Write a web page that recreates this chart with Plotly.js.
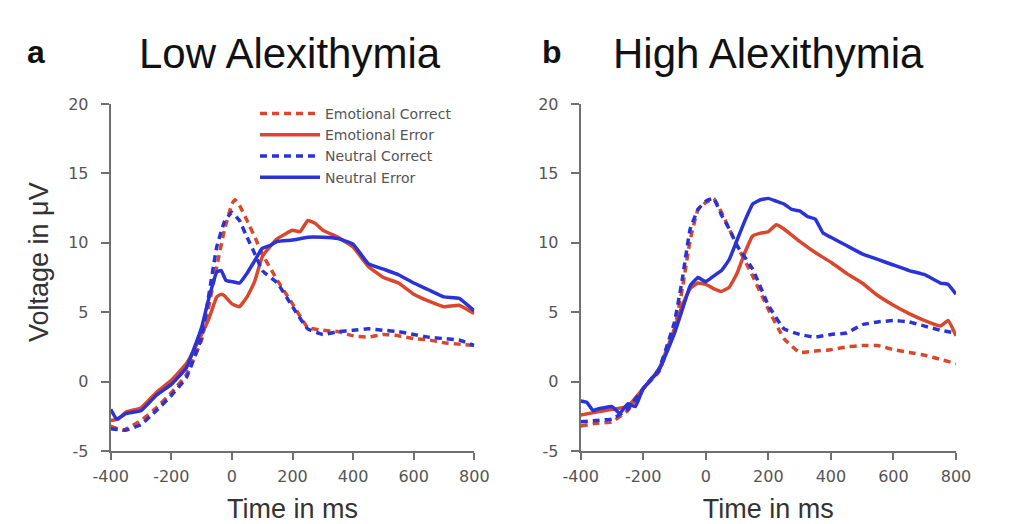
<!DOCTYPE html>
<html>
<head>
<meta charset="utf-8">
<script src="https://cdn.plot.ly/plotly-3.0.1.min.js"></script>
<style>html,body{margin:0;padding:0;background:#fff;}#chart{width:1016px;height:524px;}</style>
</head>
<body>
<div id="chart"></div>
<script>
// ---------- Data (time in ms, voltage in µV) ----------
const seriesNames = ["Emotional Correct", "Emotional Error", "Neutral Correct", "Neutral Error"];
const panelTitles = ["Low Alexithymia", "High Alexithymia"];
const panelLetters = ["a", "b"];
const xTitle = "Time in ms";
const yTitle = "Voltage in μV";
const xTicks = [-400, -200, 0, 200, 400, 600, 800];
const yTicks = [-5, 0, 5, 10, 15, 20];

// Low alexithymia
const lowEmoCorrT = [-400,-360,-300,-250,-200,-150,-100,-50,-25,0,10,25,50,80,100,150,200,250,300,350,400,450,500,550,600,650,700,750,800];
const lowEmoCorrV = [-3.2,-3.5,-2.8,-1.9,-0.8,0.5,3.0,8.3,10.9,12.8,13.1,12.7,11.6,10.2,9.2,7.3,5.6,3.9,3.7,3.6,3.3,3.2,3.4,3.3,3.1,3.0,2.8,2.7,2.6];

const lowEmoErrT = [-400,-375,-350,-300,-250,-200,-150,-100,-75,-50,-35,-25,0,25,50,75,100,125,150,200,225,250,275,300,350,400,450,500,550,600,650,700,750,800];
const lowEmoErrV = [-2.8,-2.7,-2.2,-1.9,-0.8,0.1,1.3,3.4,4.6,6.1,6.3,6.2,5.6,5.4,6.1,7.2,9.0,9.7,10.3,10.9,10.8,11.6,11.4,10.9,10.4,9.7,8.3,7.5,7.1,6.3,5.8,5.4,5.5,4.9];

const lowNeuCorrT = [-400,-350,-300,-250,-200,-150,-100,-50,-25,0,25,50,80,100,150,200,250,300,350,400,450,500,550,600,650,700,750,800];
const lowNeuCorrV = [-3.4,-3.5,-3.1,-2.1,-1.0,0.3,3.2,9.7,11.5,12.2,11.6,10.4,9.0,8.0,7.1,5.4,3.8,3.4,3.6,3.7,3.8,3.7,3.6,3.4,3.2,3.1,3.0,2.6];

const lowNeuErrT = [-400,-380,-350,-300,-250,-200,-150,-100,-75,-50,-35,-20,0,25,50,75,100,125,150,200,250,300,350,400,450,500,550,600,650,700,750,800];
const lowNeuErrV = [-2.0,-2.7,-2.3,-2.1,-1.0,-0.2,1.0,3.9,6.1,7.9,8.0,7.3,7.2,7.1,7.8,8.7,9.6,9.8,10.1,10.2,10.4,10.4,10.3,9.9,8.5,8.1,7.7,7.1,6.6,6.1,6.0,5.1];

// High alexithymia
const highEmoCorrT = [-400,-350,-300,-250,-200,-150,-100,-75,-50,-25,0,25,50,75,100,150,200,250,300,350,400,450,500,550,600,650,700,750,800];
const highEmoCorrV = [-3.2,-3.0,-2.9,-2.1,-0.5,0.7,3.8,6.7,10.2,12.4,12.9,13.2,12.2,11.0,9.8,7.6,5.2,3.1,2.1,2.2,2.3,2.5,2.6,2.6,2.3,2.1,1.9,1.6,1.3];

const highEmoErrT = [-400,-350,-300,-250,-200,-150,-100,-75,-50,-25,0,25,50,75,100,125,150,175,200,225,250,300,350,400,450,500,550,600,650,700,750,775,800];
const highEmoErrV = [-2.4,-2.2,-2.0,-1.8,-0.5,0.9,3.8,5.5,6.7,7.1,7.0,6.7,6.5,6.8,7.8,9.3,10.5,10.7,10.8,11.3,11.0,10.1,9.3,8.6,7.8,7.1,6.2,5.5,4.9,4.4,4.0,4.4,3.3];

const highNeuCorrT = [-400,-350,-300,-250,-200,-150,-100,-75,-50,-25,0,25,50,75,100,150,200,250,300,350,400,450,500,550,600,650,700,750,800];
const highNeuCorrV = [-2.9,-2.8,-2.7,-2.0,-0.5,0.9,4.3,7.4,11.0,12.4,13.0,13.2,12.0,11.0,9.8,8.1,5.5,3.8,3.4,3.2,3.4,3.5,4.1,4.3,4.4,4.3,4.0,3.7,3.5];

const highNeuErrT = [-400,-380,-360,-350,-300,-275,-250,-225,-200,-150,-100,-75,-50,-25,0,25,50,75,100,125,150,175,200,225,250,275,300,325,350,375,400,450,500,550,600,650,700,750,775,800];
const highNeuErrV = [-1.4,-1.5,-2.1,-2.0,-1.8,-2.3,-1.6,-1.8,-0.5,0.8,3.5,5.2,6.9,7.5,7.2,7.6,8.0,8.8,10.2,11.6,12.8,13.1,13.2,13.0,12.8,12.4,12.3,11.9,11.7,10.7,10.4,9.8,9.2,8.8,8.4,8.0,7.7,7.1,7.0,6.3];

// ---------- Styles ----------
const RED = "#d9472c";
const BLUE = "#2a33d6";
const LW = 3.5;

function tr(x, y, name, color, dash, xa, ya, show) {
  return {
    x: x, y: y, name: name, type: "scatter", mode: "lines",
    line: {color: color, width: LW, dash: dash ? "7px,5px" : "solid", shape: "spline", smoothing: 0.3},
    xaxis: xa, yaxis: ya, showlegend: show, hoverinfo: "skip"
  };
}

const data = [
  tr(lowEmoCorrT, lowEmoCorrV, seriesNames[0], RED, true, "x", "y", true),
  tr(lowEmoErrT, lowEmoErrV, seriesNames[1], RED, false, "x", "y", true),
  tr(lowNeuCorrT, lowNeuCorrV, seriesNames[2], BLUE, true, "x", "y", true),
  tr(lowNeuErrT, lowNeuErrV, seriesNames[3], BLUE, false, "x", "y", true),
  tr(highEmoCorrT, highEmoCorrV, seriesNames[0], RED, true, "x2", "y2", false),
  tr(highEmoErrT, highEmoErrV, seriesNames[1], RED, false, "x2", "y2", false),
  tr(highNeuCorrT, highNeuCorrV, seriesNames[2], BLUE, true, "x2", "y2", false),
  tr(highNeuErrT, highNeuErrV, seriesNames[3], BLUE, false, "x2", "y2", false)
];

const tickFont = {family: "DejaVu Sans, Verdana, sans-serif", size: 16, color: "#555"};
const titleFont = {family: "Liberation Sans, Arial", size: 27, color: "#333"};
const W = 1016, H = 524;
function xax(domain) {
  return {
    domain: domain, range: [-400, 800], tickvals: xTicks, ticktext: xTicks.map(String),
    showline: true, linecolor: "#707070", linewidth: 2, ticks: "outside", ticklen: 7, tickwidth: 2, tickcolor: "#707070",
    ticklabelstandoff: 3,
    showgrid: false, zeroline: false, tickfont: tickFont, fixedrange: true,
    title: {text: xTitle, font: titleFont, standoff: 14}
  };
}
function yax(domain, anchor) {
  return {
    domain: domain, range: [-5, 20], tickvals: yTicks, ticktext: yTicks.map(String), anchor: anchor,
    showline: true, linecolor: "#707070", linewidth: 2, ticks: "outside", ticklen: 8, tickwidth: 2, tickcolor: "#707070",
    ticklabelstandoff: 9,
    showgrid: false, zeroline: false, tickfont: tickFont, fixedrange: true
  };
}

const yDom = [(H - 451) / H, (H - 104) / H];
const layout = {
  width: W, height: H,
  margin: {l: 0, r: 0, t: 0, b: 0},
  paper_bgcolor: "#ffffff", plot_bgcolor: "#ffffff",
  showlegend: true,
  legend: {
    x: 255 / W, y: (H - 98) / H, xanchor: "left", yanchor: "top",
    font: {family: "DejaVu Sans, Verdana, sans-serif", size: 14, color: "#555"},
    bgcolor: "rgba(0,0,0,0)", tracegroupgap: 0, itemwidth: 60
  },
  xaxis: xax([110.7 / W, 474.3 / W]),
  yaxis: yax(yDom, "x"),
  xaxis2: xax([580.7 / W, 956 / W]),
  yaxis2: yax(yDom, "x2"),
  annotations: [
    {text: "<b>" + panelLetters[0] + "</b>", xref: "paper", yref: "paper", x: 36 / W, y: (H - 52) / H, xanchor: "center", yanchor: "middle", showarrow: false, font: {family: "Liberation Sans, Arial", size: 32, color: "#111"}},
    {text: panelTitles[0], xref: "paper", yref: "paper", x: 290 / W, y: (H - 53) / H, xanchor: "center", yanchor: "middle", showarrow: false, font: {family: "Liberation Sans, Arial", size: 42, color: "#111"}},
    {text: "<b>" + panelLetters[1] + "</b>", xref: "paper", yref: "paper", x: 552 / W, y: (H - 52) / H, xanchor: "center", yanchor: "middle", showarrow: false, font: {family: "Liberation Sans, Arial", size: 32, color: "#111"}},
    {text: panelTitles[1], xref: "paper", yref: "paper", x: 768 / W, y: (H - 53) / H, xanchor: "center", yanchor: "middle", showarrow: false, font: {family: "Liberation Sans, Arial", size: 42, color: "#111"}},
    {text: yTitle, textangle: -90, xref: "paper", yref: "paper", x: 39 / W, y: (H - 262) / H, xanchor: "center", yanchor: "middle", showarrow: false, font: titleFont}
  ]
};

Plotly.newPlot("chart", data, layout, {staticPlot: true, displayModeBar: false});
</script>
</body>
</html>
